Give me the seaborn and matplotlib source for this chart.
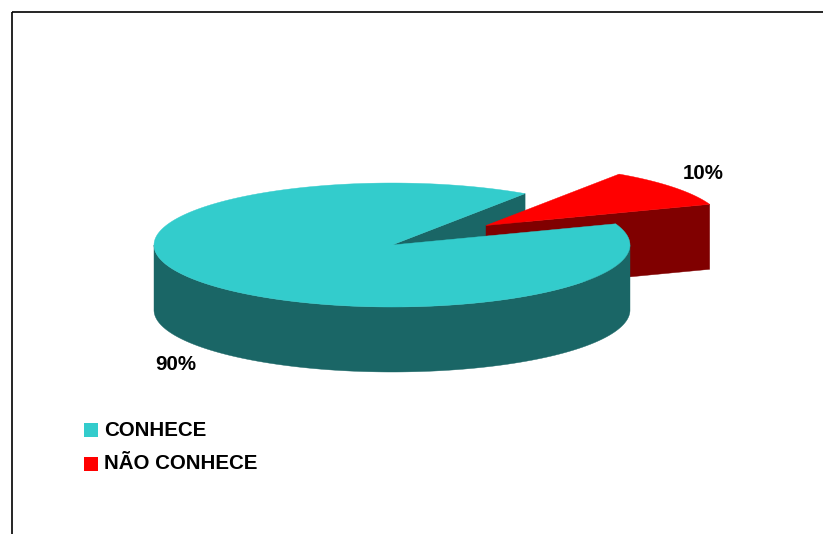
import numpy as np
import matplotlib
matplotlib.use("Agg")
import matplotlib.pyplot as plt
from matplotlib.patches import Polygon, Rectangle
import seaborn as sns

categories = ["CONHECE", "NÃO CONHECE"]
shares = [90, 10]
value_labels = ["90%", "10%"]
top_colors = ["#33CCCC", "#FF0000"]
side_colors = ["#1A6666", "#800000"]

W, H = 823, 534
CX, CY, RX, RY, DEPTH = 392, 245, 238, 62, 65
START_ANGLE = 20.0
OFFSET = (94, -19.5)

sns.set_theme(style="white")
plt.rcParams["font.family"] = ["Liberation Sans", "DejaVu Sans"]

fig = plt.figure(figsize=(W / 100, H / 100), dpi=100)
ax = fig.add_axes([0, 0, 1, 1])
ax.set_xlim(0, W)
ax.set_ylim(H, 0)
ax.axis("off")


def rim(a0, a1, cx, cy):
    t = np.radians(np.linspace(a0, a1, 360))
    return np.column_stack([cx + RX * np.cos(t), cy - RY * np.sin(t)])


def add_poly(points, color, z):
    ax.add_patch(Polygon(points, closed=True, fc=color, ec=color, lw=0.3, zorder=z))


def cut_face(angle, cx, cy, color, z):
    apex = np.array([cx, cy], dtype=float)
    drop = np.array([0, DEPTH], dtype=float)
    edge = rim(angle, angle, cx, cy)[0]
    add_poly([apex, edge, edge + drop, apex + drop], color, z)


def outer_wall(a0, a1, cx, cy, color, z):
    # only the stretch of rim on the viewer's side is visible
    drop = np.array([0, DEPTH], dtype=float)
    for s in (180, 540):
        b0, b1 = max(a0, s), min(a1, s + 180)
        if b1 > b0:
            arc = rim(b0, b1, cx, cy)
            add_poly(np.vstack([arc, arc[::-1] + drop]), color, z)


fractions = np.array(shares, dtype=float) / sum(shares)
sweeps = fractions * 360

red_start = START_ANGLE
red_end = red_start + sweeps[1]
teal_end = red_end + sweeps[0]
red_cx, red_cy = CX + OFFSET[0], CY + OFFSET[1]

# far cut face of the main body sits behind the exploded slice
cut_face(red_end, CX, CY, side_colors[0], 1)

# exploded slice
cut_face(red_start, red_cx, red_cy, side_colors[1], 2)
add_poly(np.vstack([[(red_cx, red_cy)], rim(red_start, red_end, red_cx, red_cy)]), top_colors[1], 3)

# main body
outer_wall(red_end, teal_end, CX, CY, side_colors[0], 4)
add_poly(np.vstack([[(CX, CY)], rim(red_end, teal_end, CX, CY)]), top_colors[0], 5)

ax.text(176, 364, value_labels[0], fontsize=14.8, fontweight="bold", color="black",
        ha="center", va="center", zorder=6)
ax.text(703.5, 173.5, value_labels[1], fontsize=14.8, fontweight="bold", color="black",
        ha="center", va="center", zorder=6)

for i, (name, color) in enumerate(zip(categories, top_colors)):
    y = 430 + i * 34
    ax.add_patch(Rectangle((84, y - 7), 14, 14, fc=color, ec="none", zorder=6))
    ax.text(104, y - i * 0.5, name, fontsize=14.8, fontweight="bold", color="black",
            ha="left", va="center", zorder=6)

# frame: top and left edges of the chart area
ax.plot([12, W], [12, 12], color="black", lw=1.2, zorder=7, solid_capstyle="butt")
ax.plot([12, 12], [12, H], color="black", lw=1.2, zorder=7, solid_capstyle="butt")

fig.savefig("out.png", dpi=100)
